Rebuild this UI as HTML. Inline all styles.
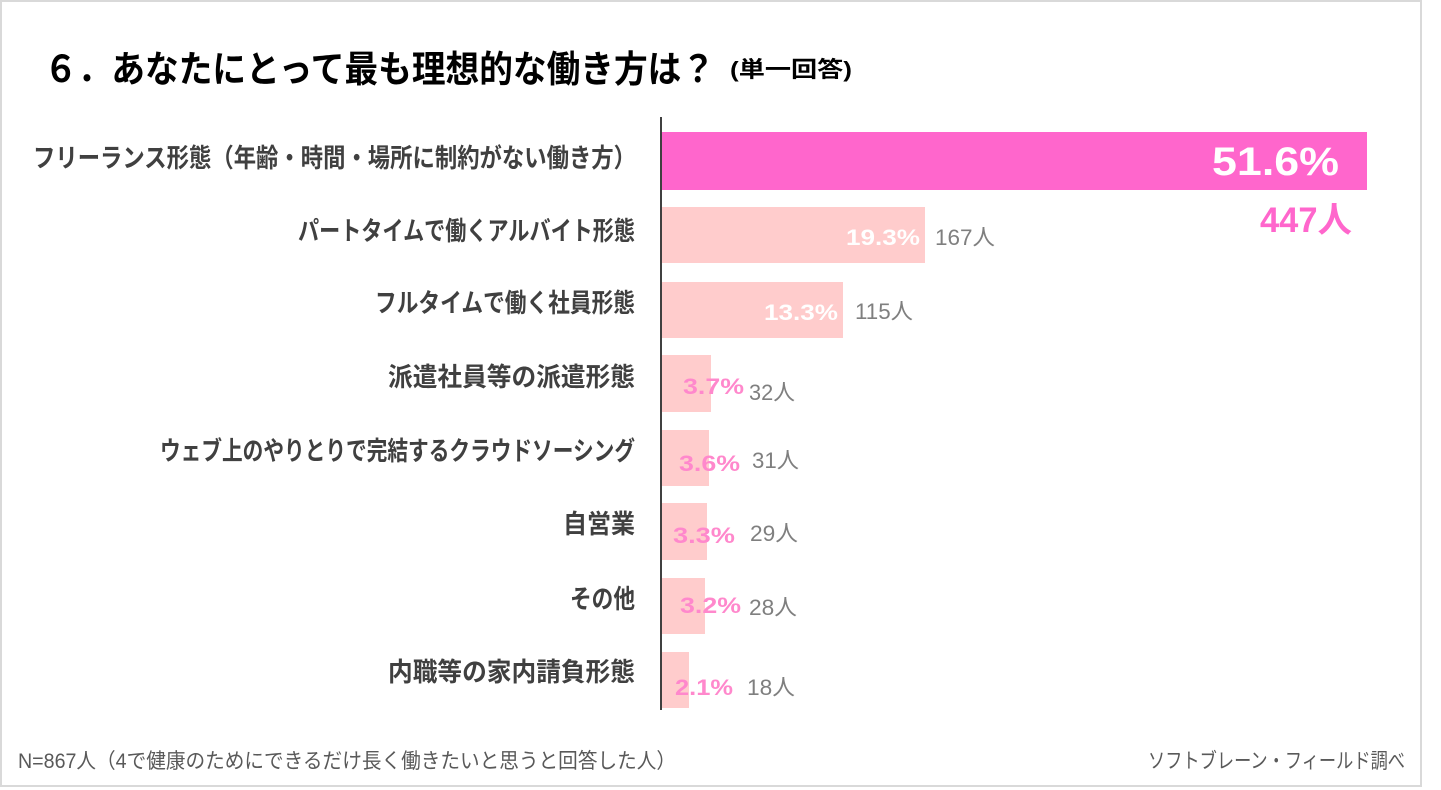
<!DOCTYPE html>
<html>
<head>
<meta charset="utf-8">
<style>
html,body{margin:0;padding:0;background:#fff;}
svg{display:block;}
.jp{font-family:"Liberation Sans","Noto Sans CJK JP",sans-serif;}
</style>
</head>
<body>
<svg width="1441" height="790" viewBox="0 0 1441 790" xmlns="http://www.w3.org/2000/svg">
  <rect x="0" y="0" width="1441" height="790" fill="#fff"/>
  <rect x="1" y="1" width="1420" height="785" fill="#fff" stroke="#d9d9d9" stroke-width="2"/>

  <!-- Title -->
  <text class="jp" x="44" y="82" font-size="37" font-weight="bold" fill="#000" textLength="671" lengthAdjust="spacingAndGlyphs">６．あなたにとって最も理想的な働き方は？</text>
  <text class="jp" x="730" y="77" font-size="22" font-weight="bold" fill="#000" textLength="122" lengthAdjust="spacingAndGlyphs">(単一回答)</text>

  <!-- Bars -->
  <rect x="662" y="132" width="705" height="58" fill="#ff66cc"/>
  <rect x="662" y="207" width="263" height="56" fill="#ffcccc"/>
  <rect x="662" y="282" width="181" height="56" fill="#ffcccc"/>
  <rect x="662" y="355" width="49" height="57" fill="#ffcccc"/>
  <rect x="662" y="430" width="47" height="56" fill="#ffcccc"/>
  <rect x="662" y="503" width="45" height="57" fill="#ffcccc"/>
  <rect x="662" y="578" width="43" height="56" fill="#ffcccc"/>
  <rect x="662" y="652" width="27" height="56" fill="#ffcccc"/>

  <!-- Axis -->
  <line x1="661" y1="117" x2="661" y2="710" stroke="#404040" stroke-width="2"/>

  <!-- Category labels -->
  <g class="jp" font-size="26" font-weight="bold" fill="#404040">
    <text x="33" y="167" textLength="603" lengthAdjust="spacingAndGlyphs">フリーランス形態（年齢・時間・場所に制約がない働き方）</text>
    <text x="298" y="240" textLength="337" lengthAdjust="spacingAndGlyphs">パートタイムで働くアルバイト形態</text>
    <text x="375" y="312" textLength="260" lengthAdjust="spacingAndGlyphs">フルタイムで働く社員形態</text>
    <text x="388" y="386" textLength="247" lengthAdjust="spacingAndGlyphs">派遣社員等の派遣形態</text>
    <text x="160" y="460" textLength="475" lengthAdjust="spacingAndGlyphs">ウェブ上のやりとりで完結するクラウドソーシング</text>
    <text x="563" y="533" textLength="72" lengthAdjust="spacingAndGlyphs">自営業</text>
    <text x="570" y="608" textLength="65" lengthAdjust="spacingAndGlyphs">その他</text>
    <text x="388" y="681" textLength="247" lengthAdjust="spacingAndGlyphs">内職等の家内請負形態</text>
  </g>

  <!-- Value labels -->
  <text class="jp" x="1212" y="175" font-size="40" font-weight="bold" fill="#fff" textLength="127" lengthAdjust="spacingAndGlyphs">51.6%</text>
  <text class="jp" x="1260" y="232" font-size="35" font-weight="bold" fill="#ff66cc" textLength="92" lengthAdjust="spacingAndGlyphs">447人</text>

  <text class="jp" x="846" y="245" font-size="22" font-weight="bold" fill="#fff" textLength="74" lengthAdjust="spacingAndGlyphs">19.3%</text>
  <text class="jp" x="935" y="245" font-size="22" fill="#7f7f7f" textLength="60" lengthAdjust="spacingAndGlyphs">167人</text>

  <text class="jp" x="764" y="320" font-size="22" font-weight="bold" fill="#fff" textLength="74" lengthAdjust="spacingAndGlyphs">13.3%</text>
  <text class="jp" x="855" y="319" font-size="22" fill="#7f7f7f" textLength="58" lengthAdjust="spacingAndGlyphs">115人</text>

  <text class="jp" x="683" y="394" font-size="22" font-weight="bold" fill="#ff88cc" textLength="61" lengthAdjust="spacingAndGlyphs">3.7%</text>
  <text class="jp" x="749" y="400" font-size="22" fill="#7f7f7f" textLength="46" lengthAdjust="spacingAndGlyphs">32人</text>

  <text class="jp" x="679" y="471" font-size="22" font-weight="bold" fill="#ff88cc" textLength="61" lengthAdjust="spacingAndGlyphs">3.6%</text>
  <text class="jp" x="752" y="468" font-size="22" fill="#7f7f7f" textLength="47" lengthAdjust="spacingAndGlyphs">31人</text>

  <text class="jp" x="673" y="543" font-size="22" font-weight="bold" fill="#ff88cc" textLength="62" lengthAdjust="spacingAndGlyphs">3.3%</text>
  <text class="jp" x="750" y="541" font-size="22" fill="#7f7f7f" textLength="48" lengthAdjust="spacingAndGlyphs">29人</text>

  <text class="jp" x="680" y="613" font-size="22" font-weight="bold" fill="#ff88cc" textLength="61" lengthAdjust="spacingAndGlyphs">3.2%</text>
  <text class="jp" x="749" y="615" font-size="22" fill="#7f7f7f" textLength="48" lengthAdjust="spacingAndGlyphs">28人</text>

  <text class="jp" x="675" y="695" font-size="22" font-weight="bold" fill="#ff88cc" textLength="58" lengthAdjust="spacingAndGlyphs">2.1%</text>
  <text class="jp" x="747" y="695" font-size="22" fill="#7f7f7f" textLength="48" lengthAdjust="spacingAndGlyphs">18人</text>

  <!-- Footnotes -->
  <text class="jp" x="18" y="768" font-size="21" fill="#595959" textLength="658" lengthAdjust="spacingAndGlyphs">N=867人（4で健康のためにできるだけ長く働きたいと思うと回答した人）</text>
  <text class="jp" x="1148" y="768" font-size="21" fill="#595959" textLength="257" lengthAdjust="spacingAndGlyphs">ソフトブレーン・フィールド調べ</text>
</svg>
</body>
</html>
